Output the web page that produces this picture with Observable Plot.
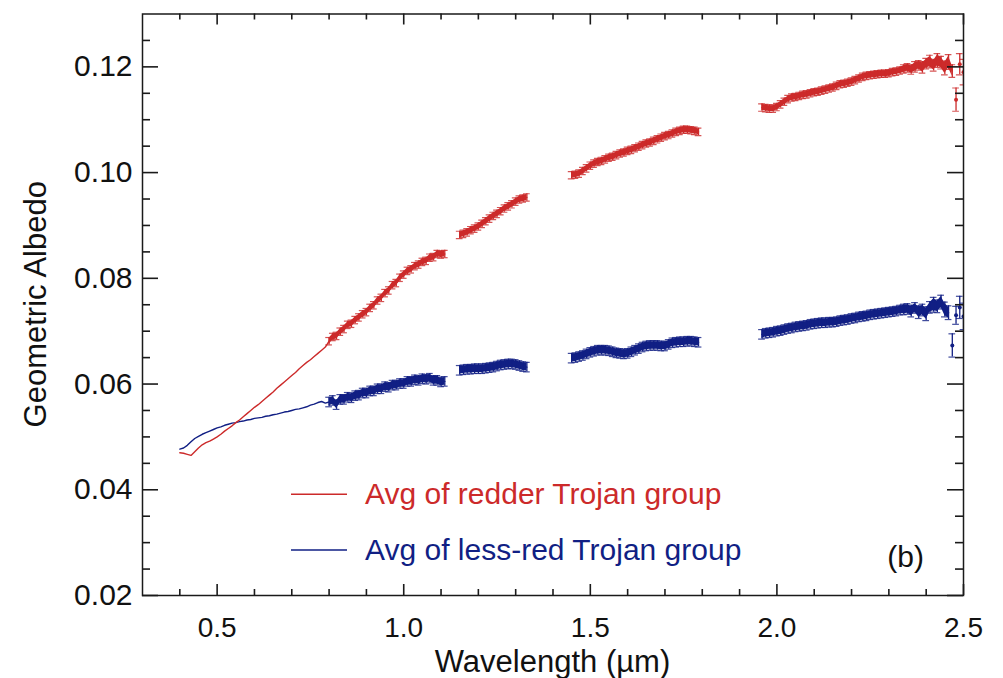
<!DOCTYPE html>
<html>
<head>
<meta charset="utf-8">
<script src="https://cdn.jsdelivr.net/npm/d3@7"></script>
<script src="https://cdn.jsdelivr.net/npm/@observablehq/plot@0.6"></script>
<style>
  html, body { margin: 0; padding: 0; background: #fff; }
  #chart svg { display: block; }
</style>
</head>
<body>
<div id="chart"></div>
<script>
// Wavelength grids (µm): visible part (no error bars) and four near-IR windows
const wlVis = [0.40,0.41,0.42,0.43,0.44,0.45,0.46,0.47,0.48,0.49,0.50,0.51,0.52,0.53,0.54,0.55,0.56,0.57,0.58,0.59,
               0.60,0.61,0.62,0.63,0.64,0.65,0.66,0.67,0.68,0.69,0.70,0.71,0.72,0.73,0.74,0.75,0.76,0.77,0.78,0.79];
const wlA = [0.80,0.81,0.82,0.83,0.84,0.85,0.86,0.87,0.88,0.89,0.90,0.91,0.92,0.93,0.94,0.95,0.96,0.97,0.98,0.99,
             1.00,1.01,1.02,1.03,1.04,1.05,1.06,1.07,1.08,1.09,1.10,1.11];
const wlB = [1.15,1.16,1.17,1.18,1.19,1.20,1.21,1.22,1.23,1.24,1.25,1.26,1.27,1.28,1.29,1.30,1.31,1.32,1.33];
const wlC = [1.45,1.46,1.47,1.48,1.49,1.50,1.51,1.52,1.53,1.54,1.55,1.56,1.57,1.58,1.59,1.60,1.61,1.62,1.63,1.64,
             1.65,1.66,1.67,1.68,1.69,1.70,1.71,1.72,1.73,1.74,1.75,1.76,1.77,1.78,1.79];
const wlD = [1.96,1.97,1.98,1.99,2.00,2.01,2.02,2.03,2.04,2.05,2.06,2.07,2.08,2.09,2.10,2.11,2.12,2.13,2.14,2.15,
             2.16,2.17,2.18,2.19,2.20,2.21,2.22,2.23,2.24,2.25,2.26,2.27,2.28,2.29,2.30,2.31,2.32,2.33,2.34,2.35,
             2.36,2.37,2.38,2.39,2.40,2.41,2.42,2.43,2.44,2.45,2.46,2.47,2.48,2.49,2.50];

// Average geometric albedo of the redder Trojan group
const redVis = [0.0470,0.0469,0.0467,0.0465,0.0472,0.0479,0.0485,0.0489,0.0492,0.0496,0.0500,0.0505,0.0511,0.0516,0.0521,0.0527,0.0532,0.0538,0.0544,0.0550,
                0.0556,0.0561,0.0567,0.0573,0.0579,0.0585,0.0592,0.0598,0.0604,0.0610,0.0616,0.0622,0.0629,0.0635,0.0641,0.0646,0.0652,0.0658,0.0664,0.0670];
const redA = [0.0681,0.0689,0.0691,0.0699,0.0704,0.0712,0.0714,0.0721,0.0726,0.0732,0.0736,0.0744,0.0749,0.0758,0.0763,0.0772,0.0777,0.0787,0.0791,0.0801,
              0.0807,0.0814,0.0817,0.0823,0.0826,0.0831,0.0833,0.0839,0.0840,0.0846,0.0845,0.0846];
const redB = [0.0882,0.0884,0.0887,0.0891,0.0894,0.0898,0.0903,0.0908,0.0913,0.0918,0.0922,0.0927,0.0932,0.0936,0.0940,0.0945,0.0949,0.0951,0.0953];
const redC = [0.0995,0.0996,0.0998,0.1003,0.1008,0.1013,0.1017,0.1020,0.1022,0.1025,0.1028,0.1030,0.1033,0.1036,0.1038,0.1041,0.1043,0.1046,0.1049,0.1052,
              0.1055,0.1057,0.1060,0.1063,0.1066,0.1069,0.1071,0.1074,0.1077,0.1079,0.1081,0.1081,0.1080,0.1079,0.1077];
const redD = [0.1123,0.1122,0.1121,0.1121,0.1124,0.1129,0.1134,0.1139,0.1142,0.1143,0.1145,0.1147,0.1148,0.1150,0.1152,0.1153,0.1155,0.1157,0.1159,0.1161,
              0.1164,0.1167,0.1168,0.1170,0.1172,0.1175,0.1178,0.1181,0.1183,0.1184,0.1185,0.1186,0.1187,0.1187,0.1188,0.1190,0.1191,0.1193,0.1196,0.1198,
              0.1195,0.1200,0.1203,0.1199,0.1206,0.1210,0.1203,0.1212,0.1208,0.1198,0.1209,0.1192,0.1138,0.1205,0.1190];
const redSigma = 0.0007;
const redSigmaD = [0.0007,0.0007,0.0007,0.0007,0.0007,0.0007,0.0007,0.0007,0.0007,0.0007,0.0007,0.0007,0.0007,0.0007,0.0007,0.0007,0.0007,0.0007,0.0007,0.0007,
                   0.0007,0.0007,0.0007,0.0007,0.0007,0.0007,0.0007,0.0007,0.0007,0.0007,0.0007,0.0007,0.0007,0.0007,0.0007,0.0007,0.0007,0.0007,0.0008,0.0008,
                   0.0009,0.0010,0.0009,0.0011,0.0010,0.0012,0.0011,0.0013,0.0012,0.0013,0.0014,0.0012,0.0022,0.0020,0.0024];

// Average geometric albedo of the less-red Trojan group
const blueVis = [0.0477,0.0479,0.0484,0.0491,0.0497,0.0501,0.0505,0.0508,0.0511,0.0514,0.0517,0.0519,0.0522,0.0524,0.0526,0.0527,0.0529,0.0530,0.0532,0.0533,
                 0.0535,0.0536,0.0537,0.0539,0.0540,0.0542,0.0543,0.0545,0.0547,0.0548,0.0550,0.0552,0.0553,0.0555,0.0557,0.0560,0.0562,0.0565,0.0567,0.0564];
const blueA = [0.0566,0.0569,0.0561,0.0571,0.0571,0.0575,0.0574,0.0578,0.0579,0.0583,0.0583,0.0587,0.0587,0.0591,0.0591,0.0595,0.0594,0.0598,0.0598,0.0601,
               0.0601,0.0605,0.0605,0.0608,0.0607,0.0610,0.0609,0.0611,0.0607,0.0607,0.0604,0.0605];
const blueB = [0.0626,0.0627,0.0628,0.0628,0.0629,0.0629,0.0629,0.0630,0.0631,0.0632,0.0634,0.0636,0.0637,0.0638,0.0638,0.0637,0.0635,0.0633,0.0632];
const blueC = [0.0649,0.0650,0.0652,0.0654,0.0657,0.0660,0.0662,0.0664,0.0664,0.0664,0.0663,0.0661,0.0659,0.0658,0.0657,0.0658,0.0661,0.0664,0.0667,0.0670,
               0.0672,0.0673,0.0673,0.0673,0.0672,0.0672,0.0675,0.0678,0.0679,0.0680,0.0680,0.0681,0.0681,0.0680,0.0679];
const blueD = [0.0694,0.0696,0.0697,0.0698,0.0700,0.0701,0.0703,0.0705,0.0706,0.0708,0.0709,0.0710,0.0711,0.0713,0.0714,0.0715,0.0716,0.0716,0.0717,0.0717,
               0.0718,0.0720,0.0721,0.0722,0.0724,0.0725,0.0727,0.0728,0.0729,0.0731,0.0732,0.0733,0.0734,0.0735,0.0736,0.0737,0.0738,0.0740,0.0741,0.0742,
               0.0738,0.0744,0.0736,0.0740,0.0733,0.0745,0.0750,0.0747,0.0755,0.0741,0.0735,0.0673,0.0730,0.0745,0.0728];
const blueSigma = 0.0009;
const blueSigmaD = [0.0009,0.0009,0.0009,0.0009,0.0009,0.0009,0.0009,0.0009,0.0009,0.0009,0.0009,0.0009,0.0009,0.0009,0.0009,0.0009,0.0009,0.0009,0.0009,0.0009,
                    0.0009,0.0009,0.0009,0.0009,0.0009,0.0009,0.0009,0.0009,0.0009,0.0009,0.0009,0.0009,0.0009,0.0009,0.0009,0.0009,0.0009,0.0009,0.0010,0.0010,
                    0.0011,0.0010,0.0012,0.0011,0.0013,0.0011,0.0014,0.0012,0.0013,0.0014,0.0013,0.0022,0.0017,0.0021,0.0025];

// Axis ticks
const xMajor = [0.5, 1.0, 1.5, 2.0, 2.5];
const xMinor = [0.4,0.6,0.7,0.8,0.9,1.1,1.2,1.3,1.4,1.6,1.7,1.8,1.9,2.1,2.2,2.3,2.4];
const yMajor = [0.02, 0.04, 0.06, 0.08, 0.10, 0.12];
const yMinor = [0.025,0.03,0.035,0.045,0.05,0.055,0.065,0.07,0.075,0.085,0.09,0.095,0.105,0.11,0.115,0.125];

const legendLabels = ["Avg of redder Trojan group", "Avg of less-red Trojan group"];

(function () {
  const RED = "#cc2a2a";
  const BLUE = "#111f84";
  const AXIS = "#1a1a1a";
  const FONT = "'Liberation Sans', Arial, Helvetica, sans-serif";

  const W = 1003, H = 678;
  const M = {left: 142, right: 40, top: 13.5, bottom: 83};
  const xDomain = [0.3, 2.5], yDomain = [0.02, 0.13];
  // data units per pixel, used to size the inward tick marks
  const xPerPx = (xDomain[1] - xDomain[0]) / (W - M.left - M.right);
  const yPerPx = (yDomain[1] - yDomain[0]) / (H - M.top - M.bottom);

  function rows(parts) {
    return parts.flatMap(([part, wl, val, err]) => wl.map((w, i) => ({
      w, v: val[i], part,
      e: err == null ? null : (Array.isArray(err) ? err[i] : err)
    })));
  }

  const red = rows([["a", wlVis, redVis, null], ["a", wlA, redA, redSigma], ["b", wlB, redB, redSigma],
                    ["c", wlC, redC, redSigma], ["d", wlD, redD, redSigmaD]]);
  const blue = rows([["a", wlVis, blueVis, null], ["a", wlA, blueA, blueSigma], ["b", wlB, blueB, blueSigma],
                     ["c", wlC, blueC, blueSigma], ["d", wlD, blueD, blueSigmaD]]);

  const capHalf = 0.009;   // half width of the error-bar caps, in µm
  const noisy = 0.0015;    // points with larger errors are shown by their bars alone

  function spectrum(data, color) {
    const traced = data.filter(d => d.e == null || d.e < noisy);
    const bars = data.filter(d => d.e != null);
    const banded = bars.filter(d => d.e < noisy);
    return [
      Plot.line(traced, {x: "w", y: "v", z: "part", stroke: color, strokeWidth: 1.4, clip: true}),
      Plot.areaY(banded, {x: "w", y1: d => d.v - d.e * 0.8, y2: d => d.v + d.e * 0.8, z: "part", fill: color, clip: true}),
      Plot.ruleX(bars, {x: "w", y1: d => d.v - d.e, y2: d => d.v + d.e, stroke: color, strokeWidth: 1.3, clip: true}),
      Plot.ruleY(bars, {y: d => d.v + d.e, x1: d => d.w - capHalf, x2: d => d.w + capHalf, stroke: color, strokeWidth: 1.2, strokeOpacity: 0.8, clip: true}),
      Plot.ruleY(bars, {y: d => d.v - d.e, x1: d => d.w - capHalf, x2: d => d.w + capHalf, stroke: color, strokeWidth: 1.2, strokeOpacity: 0.8, clip: true}),
      Plot.dot(bars.filter(d => d.e >= noisy), {x: "w", y: "v", r: 2, fill: color, stroke: null, clip: true})
    ];
  }

  // Inward tick marks on all four sides of the frame
  function xTicks(values, lenPx) {
    const len = lenPx * yPerPx;
    return [
      Plot.ruleX(values, {x: d => d, y1: yDomain[0], y2: yDomain[0] + len, stroke: AXIS, strokeWidth: 1.6}),
      Plot.ruleX(values, {x: d => d, y1: yDomain[1], y2: yDomain[1] - len, stroke: AXIS, strokeWidth: 1.6})
    ];
  }
  function yTicks(values, lenPx) {
    const len = lenPx * xPerPx;
    return [
      Plot.ruleY(values, {y: d => d, x1: xDomain[0], x2: xDomain[0] + len, stroke: AXIS, strokeWidth: 1.6}),
      Plot.ruleY(values, {y: d => d, x1: xDomain[1], x2: xDomain[1] - len, stroke: AXIS, strokeWidth: 1.6})
    ];
  }

  const plot = Plot.plot({
    width: W,
    height: H,
    marginLeft: M.left,
    marginRight: M.right,
    marginTop: M.top,
    marginBottom: M.bottom,
    style: {fontFamily: FONT, background: "#fff", color: "#111"},
    x: {domain: xDomain},
    y: {domain: yDomain},
    marks: [
      Plot.axisX({ticks: xMajor, tickSize: 0, tickPadding: 22, tickFormat: d3.format(".1f"), fontSize: 28, label: null}),
      Plot.axisY({ticks: yMajor, tickSize: 0, tickPadding: 10, tickFormat: d3.format(".2f"), fontSize: 30, label: null}),
      ...spectrum(blue, BLUE),
      ...spectrum(red, RED),
      Plot.frame({stroke: AXIS, strokeWidth: 1.5}),
      ...xTicks(xMajor, 11),
      ...xTicks(xMinor, 6),
      ...yTicks(yMajor, 16),
      ...yTicks(yMinor, 8)
    ]
  });

  const svg = d3.select(plot);
  const xs = plot.scale("x"), ys = plot.scale("y");
  const [xLeft, xRight] = xs.range;
  const [yBottom, yTop] = ys.range;

  // Axis titles
  const tt = svg.append("g").attr("font-family", FONT).attr("fill", "#111").attr("font-size", 31).attr("text-anchor", "middle");
  tt.append("text")
    .attr("transform", `translate(45.5,${(yTop + yBottom) / 2}) rotate(-90)`)
    .text("Geometric Albedo");
  tt.append("text")
    .attr("x", (xLeft + xRight) / 2).attr("y", 672)
    .text("Wavelength (\u00b5m)");

  // Legend and panel tag
  const lg = svg.append("g").attr("font-family", FONT).attr("font-size", 30).attr("text-anchor", "start");
  [[RED, 494.3, 503.5], [BLUE, 550, 560]].forEach(([c, ly, by], i) => {
    lg.append("line").attr("x1", xLeft + 149).attr("x2", xLeft + 205).attr("y1", ly).attr("y2", ly)
      .attr("stroke", c).attr("stroke-width", 1.4);
    lg.append("text").attr("x", xLeft + 223).attr("y", by).attr("fill", c).text(legendLabels[i]);
  });
  lg.append("text").attr("x", xRight - 39).attr("y", 567).attr("text-anchor", "end").attr("fill", "#111").text("(b)");

  document.getElementById("chart").append(plot);
})();
</script>
</body>
</html>
